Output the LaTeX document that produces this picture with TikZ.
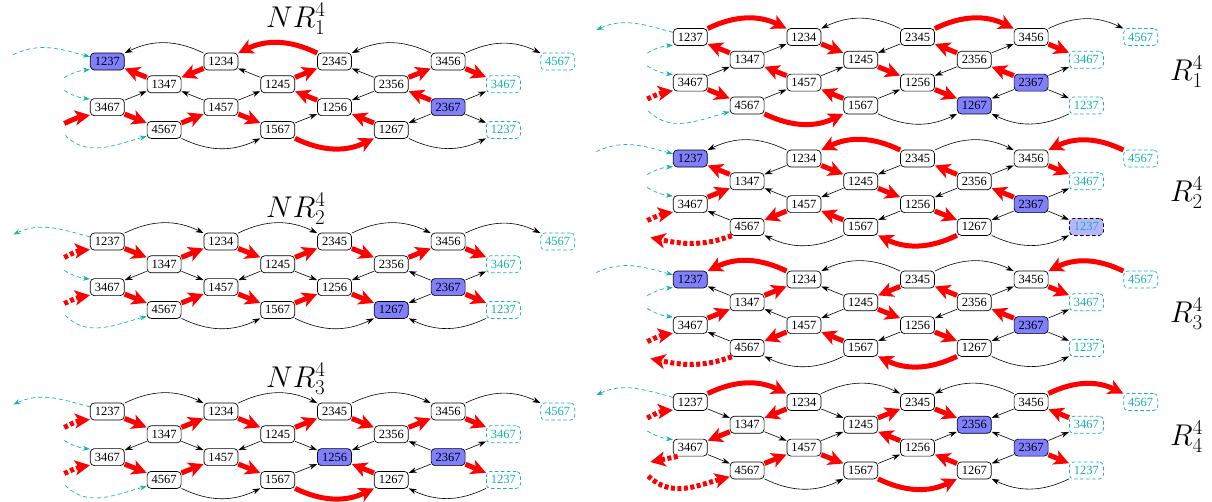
\RequirePackage{fix-cm}
\documentclass[tikz,border=0pt]{standalone}
\usepackage{fontspec}
\newfontfamily\labfont{Liberation Serif}
\usetikzlibrary{arrows.meta}
\definecolor{hubblue}{RGB}{128,128,255}
\definecolor{paleblue}{RGB}{182,182,255}
\definecolor{wrapcyan}{RGB}{20,178,178}
\tikzset{
  v/.style={draw=black, line width=0.7pt, rounded corners=4pt, fill=white,
    minimum width=34pt, minimum height=17pt, inner sep=0pt,
    font=\labfont\fontsize{12.5}{13}\selectfont},
  ghost/.style={v, draw=wrapcyan, dash pattern=on 3.5pt off 2.5pt, text=wrapcyan},
  hub/.style={fill=hubblue},
  bk/.style={draw=black, line width=0.6pt, -{Stealth[length=8pt,width=5.5pt]}},
  rd/.style={draw=red, line width=5pt, -{Stealth[length=15pt,width=15pt,inset=4pt]}},
  rdd/.style={rd, dash pattern=on 4pt off 2.5pt},
  cy/.style={draw=wrapcyan, line width=0.7pt, dash pattern=on 4pt off 3pt,
    -{Stealth[length=7pt,width=5pt]}},
  title/.style={font=\fontsize{30}{36}\selectfont, anchor=base west, inner sep=0pt},
  h1237/.style={}, h1234/.style={}, h2345/.style={}, h3456/.style={},
  h1347/.style={}, h1245/.style={}, h2356/.style={}, h3467/.style={},
  h1457/.style={}, h1256/.style={}, h2367/.style={}, h4567/.style={},
  h1567/.style={}, h1267/.style={}, hg4567/.style={}, hg3467/.style={},
  hg1237/.style={},
}
\newcommand\dx{56.8}
\newcommand\dy{22.8}
\newcommand\pfx{a}
% the lattice of one panel: #1 name prefix, #2 x of first column, #3 y of top row
\newcommand\lattice[3]{%
  \node[v,h1237] (#1-1237) at (#2,#3) {1237};
  \node[v,h1234] (#1-1234) at ({#2+2*\dx},#3) {1234};
  \node[v,h2345] (#1-2345) at ({#2+4*\dx},#3) {2345};
  \node[v,h3456] (#1-3456) at ({#2+6*\dx},#3) {3456};
  \node[ghost,hg4567] (#1-g4567) at ({#2+8*\dx-4},#3) {4567};
  \node[v,h1347] (#1-1347) at ({#2+\dx},{#3+\dy}) {1347};
  \node[v,h1245] (#1-1245) at ({#2+3*\dx},{#3+\dy}) {1245};
  \node[v,h2356] (#1-2356) at ({#2+5*\dx},{#3+\dy}) {2356};
  \node[ghost,hg3467] (#1-g3467) at ({#2+7*\dx-1.5},{#3+\dy}) {3467};
  \node[v,h3467] (#1-3467) at (#2,{#3+2*\dy}) {3467};
  \node[v,h1457] (#1-1457) at ({#2+2*\dx},{#3+2*\dy}) {1457};
  \node[v,h1256] (#1-1256) at ({#2+4*\dx},{#3+2*\dy}) {1256};
  \node[v,h2367] (#1-2367) at ({#2+6*\dx},{#3+2*\dy}) {2367};
  \node[v,h4567] (#1-4567) at ({#2+\dx},{#3+3*\dy}) {4567};
  \node[v,h1567] (#1-1567) at ({#2+3*\dx},{#3+3*\dy}) {1567};
  \node[v,h1267] (#1-1267) at ({#2+5*\dx},{#3+3*\dy}) {1267};
  \node[ghost,hg1237] (#1-g1237) at ({#2+7*\dx-1.5},{#3+3*\dy}) {1237};
  \coordinate (#1-far) at ({#2-94},{#3-7});
  \coordinate (#1-s1) at ({#2-43},{#3+16});
  \coordinate (#1-s2) at ({#2-43},{#3+29});
  \coordinate (#1-s3) at ({#2-43},{#3+62});
  \coordinate (#1-s4) at ({#2-42},{#3+74});
  \coordinate (#1-s5) at ({#2-40},{#3+79});
  \coordinate (#1-s6) at ({#2-40},{#3+60});
}
% connectors
\newcommand\Sg[3]{\draw[#1] (\pfx-#2) -- (\pfx-#3);}
\newcommand\arcTR[3]{\draw[#1] (\pfx-#2) to[bend left=26] (\pfx-#3);}
\newcommand\arcTL[3]{\draw[#1] (\pfx-#2) to[bend right=26] (\pfx-#3);}
\newcommand\arcBR[3]{\draw[#1] (\pfx-#2) to[bend right=26] (\pfx-#3);}
\newcommand\arcBL[3]{\draw[#1] (\pfx-#2) to[bend left=26] (\pfx-#3);}
% wrap-around stubs on the left of a panel
\newcommand\farIn[1]{\draw[#1] (\pfx-far) to[out=25,in=165] (\pfx-1237.165);}
\newcommand\farOut[1]{\draw[#1] (\pfx-1237.165) to[out=165,in=25] (\pfx-far);}
\newcommand\lowIn[1]{\draw[#1] (\pfx-s1) to[bend left=12] (\pfx-1237.205);}
\newcommand\upIn{\draw[cy] (\pfx-s2) to[bend right=12] (\pfx-3467.155);}
\newcommand\midIn[1]{\draw[#1] (\pfx-s3) to[bend left=8] (\pfx-3467.205);}
\newcommand\midOut[1]{\draw[#1] (\pfx-3467.215) -- (\pfx-s6);}
\newcommand\botIn[1]{\draw[#1] (\pfx-s4) to[out=-45,in=195] (\pfx-4567.200);}
\newcommand\botOut[1]{\draw[#1] (\pfx-4567.210) to[out=200,in=-12] (\pfx-s5);}

\begin{document}
\begin{tikzpicture}[x=1pt,y=-1pt]
\useasboundingbox (0,0) rectangle (1212,501);

% ---------------- NR_1 ----------------
\node[title] (tNR1) at (266,27) {$NR^4_1$};
\begin{scope}[h1237/.style={hub}, h2367/.style={hub}]
\lattice{a}{107.3}{61.5}
\end{scope}
\renewcommand\pfx{a}
\arcTL{bk}{1234}{1237} \arcTL{rd}{2345}{1234} \arcTL{bk}{3456}{2345} \arcTR{bk}{3456}{g4567}
\arcBR{bk}{4567}{1567} \arcBR{rd}{1567}{1267} \arcBR{bk}{1267}{g1237}
\Sg{rd}{1347}{1237} \Sg{rd}{1234}{1347} \Sg{bk}{1245}{1234} \Sg{rd}{1245}{2345}
\Sg{bk}{2356}{2345} \Sg{rd}{2356}{3456} \Sg{rd}{3456}{g3467}
\Sg{bk}{3467}{1347} \Sg{bk}{1457}{1347} \Sg{bk}{1457}{1245} \Sg{rd}{1256}{1245}
\Sg{bk}{2356}{1256} \Sg{rd}{2367}{2356} \Sg{bk}{2367}{g3467}
\Sg{rd}{3467}{4567} \Sg{rd}{4567}{1457} \Sg{rd}{1457}{1567} \Sg{bk}{1567}{1256}
\Sg{rd}{1267}{1256} \Sg{bk}{2367}{1267} \Sg{bk}{2367}{g1237}
\farIn{cy} \lowIn{cy} \upIn \midIn{rd} \botIn{cy}

% ---------------- NR_2 ----------------
\node[title] (tNR2) at (266,217) {$NR^4_2$};
\begin{scope}[h2367/.style={hub}, h1267/.style={hub}]
\lattice{b}{107.3}{241.5}
\end{scope}
\renewcommand\pfx{b}
\arcTR{bk}{1237}{1234} \arcTR{bk}{1234}{2345} \arcTR{bk}{2345}{3456} \arcTR{bk}{3456}{g4567}
\arcBR{bk}{4567}{1567} \arcBR{bk}{1567}{1267} \arcBL{bk}{g1237}{1267}
\Sg{rd}{1237}{1347} \Sg{rd}{1347}{1234} \Sg{rd}{1234}{1245} \Sg{rd}{1245}{2345}
\Sg{rd}{2345}{2356} \Sg{rd}{2356}{3456} \Sg{rd}{3456}{g3467}
\Sg{bk}{1347}{3467} \Sg{bk}{1347}{1457} \Sg{bk}{1245}{1457} \Sg{bk}{1245}{1256}
\Sg{bk}{2356}{1256} \Sg{bk}{2367}{2356} \Sg{bk}{2367}{g3467}
\Sg{rd}{3467}{4567} \Sg{rd}{4567}{1457} \Sg{rd}{1457}{1567} \Sg{rd}{1567}{1256}
\Sg{rd}{1256}{1267} \Sg{bk}{2367}{1267} \Sg{rd}{2367}{g1237}
\farOut{cy} \lowIn{rdd} \upIn \midIn{rdd} \botIn{cy}

% ---------------- NR_3 ----------------
\node[title] (tNR3) at (266,387) {$NR^4_3$};
\begin{scope}[h1256/.style={hub}, h2367/.style={hub}]
\lattice{c}{107.3}{411.5}
\end{scope}
\renewcommand\pfx{c}
\arcTR{bk}{1237}{1234} \arcTR{bk}{1234}{2345} \arcTR{bk}{2345}{3456} \arcTR{bk}{3456}{g4567}
\arcBR{bk}{4567}{1567} \arcBR{rd}{1567}{1267} \arcBL{bk}{g1237}{1267}
\Sg{rd}{1237}{1347} \Sg{rd}{1347}{1234} \Sg{rd}{1234}{1245} \Sg{rd}{1245}{2345}
\Sg{rd}{2345}{2356} \Sg{rd}{2356}{3456} \Sg{rd}{3456}{g3467}
\Sg{bk}{1347}{3467} \Sg{bk}{1347}{1457} \Sg{bk}{1245}{1457} \Sg{bk}{1245}{1256}
\Sg{bk}{2356}{1256} \Sg{bk}{2367}{2356} \Sg{bk}{2367}{g3467}
\Sg{rd}{3467}{4567} \Sg{rd}{4567}{1457} \Sg{rd}{1457}{1567} \Sg{bk}{1567}{1256}
\Sg{rd}{1267}{1256} \Sg{bk}{2367}{1267} \Sg{rd}{2367}{g1237}
\farOut{cy} \lowIn{rdd} \upIn \midIn{rdd} \botIn{cy}

% ---------------- R_1 ----------------
\node[title] (tR1) at (1170,80) {$R^4_1$};
\begin{scope}[h2367/.style={hub}, h1267/.style={hub}]
\lattice{d}{690.3}{37}
\end{scope}
\renewcommand\pfx{d}
\arcTR{rd}{1237}{1234} \arcTL{bk}{2345}{1234} \arcTR{rd}{2345}{3456} \arcTR{bk}{3456}{g4567}
\arcBR{rd}{4567}{1567} \arcBR{bk}{1567}{1267} \arcBL{bk}{g1237}{1267}
\Sg{rd}{1347}{1237} \Sg{bk}{1347}{1234} \Sg{rd}{1234}{1245} \Sg{bk}{2345}{1245}
\Sg{rd}{2356}{2345} \Sg{bk}{2356}{3456} \Sg{rd}{3456}{g3467}
\Sg{bk}{3467}{1347} \Sg{rd}{1457}{1347} \Sg{bk}{1457}{1245} \Sg{rd}{1245}{1256}
\Sg{bk}{2356}{1256} \Sg{rd}{2367}{2356} \Sg{bk}{2367}{g3467}
\Sg{rd}{3467}{4567} \Sg{bk}{4567}{1457} \Sg{rd}{1567}{1457} \Sg{bk}{1567}{1256}
\Sg{rd}{1256}{1267} \Sg{bk}{2367}{1267} \Sg{bk}{2367}{g1237}
\farOut{cy} \lowIn{cy} \upIn \midIn{rdd} \botIn{cy}

% ---------------- R_2 ----------------
\node[title] (tR2) at (1170,201.5) {$R^4_2$};
\begin{scope}[h1237/.style={hub}, h2367/.style={hub}, hg1237/.style={fill=paleblue, draw=black}]
\lattice{e}{690.3}{158.5}
\end{scope}
\renewcommand\pfx{e}
\arcTL{bk}{1234}{1237} \arcTL{rd}{2345}{1234} \arcTR{bk}{2345}{3456} \arcTL{rd}{g4567}{3456}
\arcBL{bk}{1567}{4567} \arcBL{rd}{1267}{1567} \arcBR{bk}{1267}{g1237}
\Sg{rd}{1347}{1237} \Sg{bk}{1234}{1347} \Sg{rd}{1234}{1245} \Sg{bk}{2345}{1245}
\Sg{rd}{2356}{2345} \Sg{bk}{2356}{3456} \Sg{rd}{3456}{g3467}
\Sg{rd}{3467}{1347} \Sg{bk}{1457}{1347} \Sg{bk}{1245}{1457} \Sg{rd}{1245}{1256}
\Sg{bk}{2356}{1256} \Sg{rd}{2367}{2356} \Sg{bk}{2367}{g3467}
\Sg{bk}{4567}{3467} \Sg{rd}{1457}{4567} \Sg{rd}{1567}{1457} \Sg{bk}{1256}{1567}
\Sg{rd}{1256}{1267} \Sg{bk}{2367}{1267} \Sg{bk}{2367}{g1237}
\farIn{cy} \lowIn{cy} \upIn \midIn{rdd} \botOut{rdd}

% ---------------- R_3 ----------------
\node[title] (tR3) at (1170,322.5) {$R^4_3$};
\begin{scope}[h1237/.style={hub}, h2367/.style={hub}]
\lattice{f}{690.3}{279.5}
\end{scope}
\renewcommand\pfx{f}
\arcTL{rd}{1234}{1237} \arcTL{bk}{2345}{1234} \arcTR{bk}{2345}{3456} \arcTL{rd}{g4567}{3456}
\arcBL{bk}{1567}{4567} \arcBL{rd}{1267}{1567} \arcBR{bk}{1267}{g1237}
\Sg{bk}{1347}{1237} \Sg{rd}{1347}{1234} \Sg{bk}{1245}{1234} \Sg{rd}{2345}{1245}
\Sg{rd}{2356}{2345} \Sg{bk}{2356}{3456} \Sg{rd}{3456}{g3467}
\Sg{rd}{3467}{1347} \Sg{bk}{1457}{1347} \Sg{bk}{1245}{1457} \Sg{rd}{1245}{1256}
\Sg{bk}{2356}{1256} \Sg{rd}{2367}{2356} \Sg{bk}{2367}{g3467}
\Sg{bk}{4567}{3467} \Sg{rd}{1457}{4567} \Sg{rd}{1567}{1457} \Sg{bk}{1256}{1567}
\Sg{rd}{1256}{1267} \Sg{bk}{2367}{1267} \Sg{bk}{2367}{g1237}
\farIn{cy} \lowIn{cy} \upIn \midIn{rdd} \botOut{rdd}

% ---------------- R_4 ----------------
\node[title] (tR4) at (1170,445) {$R^4_4$};
\begin{scope}[h2356/.style={hub}, h2367/.style={hub}]
\lattice{g}{690.3}{402}
\end{scope}
\renewcommand\pfx{g}
\arcTR{rd}{1237}{1234} \arcTR{bk}{1234}{2345} \arcTL{bk}{3456}{2345} \arcTR{rd}{3456}{g4567}
\arcBR{bk}{4567}{1567} \arcBR{rd}{1567}{1267} \arcBL{bk}{g1237}{1267}
\Sg{bk}{1237}{1347} \Sg{rd}{1234}{1347} \Sg{bk}{1234}{1245} \Sg{rd}{1245}{2345}
\Sg{rd}{2345}{2356} \Sg{bk}{3456}{2356} \Sg{rd}{g3467}{3456}
\Sg{rd}{1347}{3467} \Sg{bk}{1347}{1457} \Sg{bk}{1457}{1245} \Sg{rd}{1256}{1245}
\Sg{bk}{1256}{2356} \Sg{bk}{2367}{2356} \Sg{bk}{2367}{g3467}
\Sg{bk}{3467}{4567} \Sg{rd}{4567}{1457} \Sg{rd}{1457}{1567} \Sg{bk}{1567}{1256}
\Sg{rd}{1267}{1256} \Sg{bk}{2367}{1267} \Sg{rd}{2367}{g1237}
\farOut{cy} \lowIn{rdd} \upIn \midOut{rdd} \botIn{rdd}
\end{tikzpicture}
\end{document}
